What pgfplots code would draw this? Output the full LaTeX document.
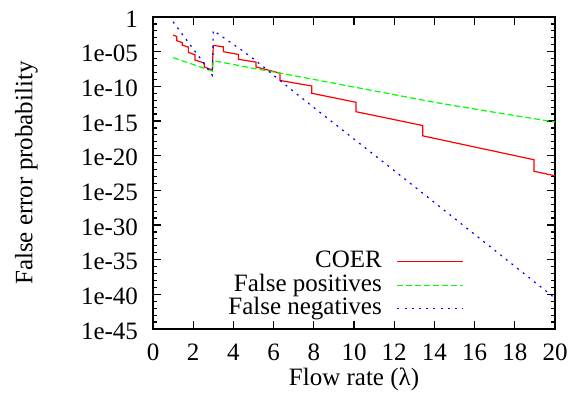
\documentclass[border=0pt]{standalone}
\usepackage{fontspec}
\setmainfont{Liberation Serif}
\usepackage{pgfplots}
\pgfplotsset{compat=1.18}

\definecolor{coerred}{rgb}{1,0,0}
\definecolor{fpgreen}{rgb}{0,1,0}
\definecolor{fnblue}{rgb}{0,0,1}

\begin{document}
\begin{tikzpicture}[font=\fontsize{12.5}{14.5}\selectfont]
\begin{axis}[
  name=ax,
  scale only axis,
  width=201pt, height=156pt,
  ymode=log,
  xmin=0, xmax=20,
  ymin=1e-45, ymax=1,
  tick pos=both,
  tick align=inside,
  axis line style={line width=0.6pt},
  every tick/.style={black, line width=0.6pt},
  major tick length=4pt,
  minor tick length=2pt,
  xtick={0,2,4,6,8,10,12,14,16,18,20},
  xticklabels={0,2,4,6,8,10,12,14,16,18,20},
  xticklabel style={anchor=base, yshift=-15.5pt},
  ytick={1e-45,1e-40,1e-35,1e-30,1e-25,1e-20,1e-15,1e-10,1e-5,1},
  yticklabels={1e-45,1e-40,1e-35,1e-30,1e-25,1e-20,1e-15,1e-10,1e-05,1},
  yticklabel style={xshift=-4pt, yshift=-1pt},
  minor ytick={1e-1,1e-2,1e-3,1e-4,1e-6,1e-7,1e-8,1e-9,1e-11,1e-12,1e-13,1e-14,
    1e-16,1e-17,1e-18,1e-19,1e-21,1e-22,1e-23,1e-24,1e-26,1e-27,1e-28,1e-29,
    1e-31,1e-32,1e-33,1e-34,1e-36,1e-37,1e-38,1e-39,1e-41,1e-42,1e-43,1e-44},
  xlabel={Flow rate (λ)},
  ylabel={False error probability},
  every axis x label/.style={at={(axis description cs:0.5,-0.1814)}, anchor=base},
  every axis y label/.style={at={(axis description cs:-0.30,0.5)}, anchor=base, rotate=90},
  legend plot pos=right,
  legend cell align=right,
  legend image code/.code={\draw[#1] (0pt,0pt) -- (33pt,0pt);},
  legend style={draw=none, fill=none, inner sep=0pt, outer sep=0pt,
    at={(axis description cs:0.7736,0.027)}, anchor=south east,
    row sep=0pt, column sep=7.5pt,
    nodes={inner sep=0pt, text height=9pt, text depth=2.8pt}},
]

% combined error: threshold steps show as vertical drops
\addplot[coerred, line width=0.6pt] coordinates {
  (1.0,2.51e-3) (1.18,1.58e-3) (1.18,3.80e-4) (1.46,2.00e-4) (1.46,8.91e-5)
  (1.76,4.47e-5) (1.76,7.94e-6) (2.09,3.55e-6) (2.09,6.31e-7) (2.55,2.24e-7)
  (2.55,6.31e-8) (2.95,2.24e-8)
  (3.0,7.94e-5) (3.5,5.01e-5) (3.5,1e-5) (4.25,3.98e-6) (4.25,7.94e-7)
  (5.12,3.16e-7) (5.12,6.31e-8) (6.32,7.94e-9) (6.32,7.08e-10) (7.9,1.12e-10)
  (7.9,1e-11) (10.1,5.01e-13) (10.1,2.19e-14) (13.42,2.24e-16) (13.42,7.24e-18)
  (18.95,2.63e-21) (18.95,5.62e-23) (20,1.26e-23)
};
\addlegendentry{COER}

\addplot[fpgreen, line width=0.6pt, dash pattern=on 3pt off 1.5pt] coordinates {
  (1,1.35e-6) (2,1.41e-7) (2.95,1.58e-8)
  (3,5.01e-7) (5,3.98e-8) (7,3.55e-9) (10,7.94e-11) (14,5.01e-13)
  (17,1.78e-14) (20,7.08e-16)
};
\addlegendentry{False positives}

\addplot[fnblue, line width=0.6pt, dash pattern=on 1pt off 2.6pt] coordinates {
  (1,0.2) (1.5,2.24e-3) (2,2.51e-5) (2.5,2.82e-7) (2.95,3.98e-9)
  (3,1.12e-2) (3.5,1.12e-3) (4,1.12e-4) (4.5,1.12e-5) (5,8.91e-7)
  (5.5,6.31e-8) (6,3.98e-9) (7,1.78e-11) (8,8.91e-14) (10,2.51e-18)
  (12,7.08e-23) (14,1.78e-27) (16,4.47e-32) (18,1.12e-36) (20,2.82e-41)
};
\addlegendentry{False negatives}

\end{axis}
\pgfresetboundingbox
\path[use as bounding box] ([shift={(-76.5pt,-37.5pt)}]ax.south west)
  rectangle ([shift={(10.5pt,8.5pt)}]ax.north east);
\end{tikzpicture}
\end{document}
